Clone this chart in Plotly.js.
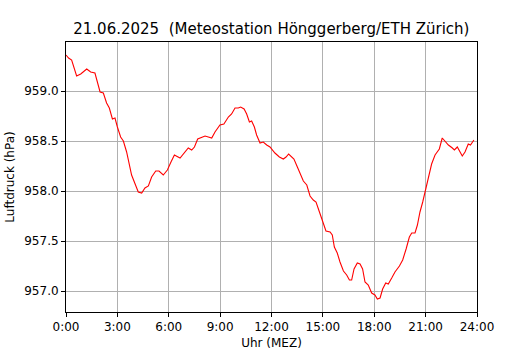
<!DOCTYPE html>
<html>
<head>
<meta charset="utf-8">
<script src="https://cdn.plot.ly/plotly-3.0.1.min.js"></script>
<style>
html,body{margin:0;padding:0;background:#fff;}
#chart{width:530px;height:350px;}
</style>
</head>
<body>
<div id="chart"></div>
<script>
// time in hours (MEZ)
const hours = [0.0,0.15,0.33,0.62,0.86,1.21,1.44,1.69,1.99,2.18,2.37,2.53,2.71,2.86,3.0,3.19,3.35,3.54,3.83,4.03,4.22,4.42,4.61,4.81,5.0,5.24,5.43,5.68,5.92,6.13,6.33,6.66,6.89,7.14,7.34,7.5,7.69,7.93,8.12,8.31,8.51,8.7,8.99,9.22,9.48,9.67,9.87,10.06,10.2,10.4,10.55,10.71,10.84,11.0,11.13,11.33,11.52,11.72,11.91,12.2,12.46,12.69,12.85,13.0,13.18,13.31,13.51,13.67,13.86,14.06,14.25,14.44,14.6,14.8,15.0,15.18,15.42,15.55,15.67,15.84,16.0,16.2,16.39,16.55,16.68,16.82,17.01,17.17,17.32,17.46,17.65,17.85,18.04,18.18,18.34,18.49,18.67,18.82,19.02,19.21,19.47,19.66,19.86,20.05,20.19,20.38,20.52,20.67,20.83,21.02,21.16,21.35,21.55,21.65,21.8,21.97,22.13,22.33,22.56,22.68,22.85,22.97,23.14,23.3,23.49,23.62,23.82];
// air pressure (hPa)
const pressure = [959.36,959.33,959.31,959.15,959.17,959.22,959.19,959.18,958.99,958.98,958.88,958.83,958.72,958.73,958.64,958.54,958.50,958.39,958.16,958.08,957.99,957.98,958.03,958.05,958.14,958.20,958.20,958.16,958.21,958.29,958.36,958.33,958.38,958.43,958.41,958.44,958.52,958.54,958.55,958.54,958.53,958.59,958.66,958.67,958.74,958.77,958.83,958.83,958.84,958.82,958.77,958.69,958.70,958.64,958.56,958.48,958.49,958.46,958.44,958.38,958.34,958.32,958.34,958.37,958.34,958.32,958.24,958.18,958.10,958.06,957.95,957.91,957.89,957.79,957.68,957.60,957.59,957.56,957.44,957.38,957.29,957.20,957.16,957.11,957.11,957.22,957.28,957.27,957.22,957.09,957.06,956.98,956.96,956.92,956.93,957.02,957.08,957.07,957.13,957.19,957.25,957.31,957.42,957.54,957.58,957.58,957.66,957.79,957.89,958.04,958.14,958.27,958.36,958.39,958.42,958.53,958.50,958.46,958.43,958.41,958.44,958.40,958.35,958.39,958.47,958.46,958.51];
const xTickVals = [0,3,6,9,12,15,18,21,24];
const xTickText = ["0:00","3:00","6:00","9:00","12:00","15:00","18:00","21:00","24:00"];
const yTickVals = [957.0,957.5,958.0,958.5,959.0];
const yTickText = ["957.0","957.5","958.0","958.5","959.0"];

const font = "DejaVu Sans, sans-serif";
const data = [{
  x: hours, y: pressure, type: "scatter", mode: "lines",
  line: {color: "#ff0000", width: 1.1}, hoverinfo: "skip"
}];
const layout = {
  width: 530, height: 350,
  margin: {l: 66, r: 53, t: 42, b: 38},
  paper_bgcolor: "#ffffff", plot_bgcolor: "#ffffff",
  showlegend: false,
  font: {family: font, size: 12, color: "#000"},
  title: {text: "21.06.2025  (Meteostation Hönggerberg/ETH Zürich)", font: {family: font, size: 15, color: "#000"},
          x: 0.512, xanchor: "center", xref: "container", y: 0.917, yanchor: "middle", yref: "container"},
  xaxis: {
    range: [0, 24], tickmode: "array", tickvals: xTickVals, ticktext: xTickText,
    showgrid: true, gridcolor: "#b0b0b0", gridwidth: 1,
    showline: true, linecolor: "#000", linewidth: 1, mirror: true,
    ticks: "outside", ticklen: 4, tickcolor: "#000", tickfont: {family: font, size: 12},
    zeroline: false,
    title: {text: "Uhr (MEZ)", font: {family: font, size: 12}, standoff: 6}
  },
  yaxis: {
    range: [956.79, 959.49], tickmode: "array", tickvals: yTickVals, ticktext: yTickText,
    showgrid: true, gridcolor: "#b0b0b0", gridwidth: 1,
    showline: true, linecolor: "#000", linewidth: 1, mirror: true,
    ticks: "outside", ticklen: 4, tickcolor: "#000", tickfont: {family: font, size: 12},
    zeroline: false,
    title: {text: "Luftdruck (hPa)", font: {family: font, size: 12}, standoff: 7}
  }
};
Plotly.newPlot("chart", data, layout, {displayModeBar: false, staticPlot: true});
</script>
</body>
</html>
